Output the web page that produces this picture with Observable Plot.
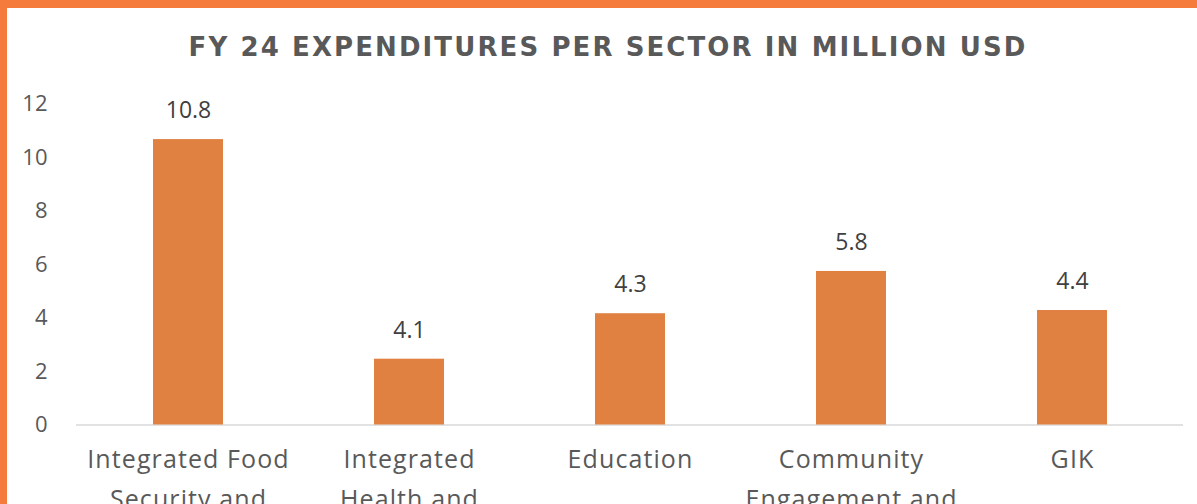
<!DOCTYPE html>
<html>
<head>
<meta charset="utf-8">
<script src="https://cdn.jsdelivr.net/npm/d3@7"></script>
<script src="https://cdn.jsdelivr.net/npm/@observablehq/plot@0.6"></script>
<style>
  html, body { margin: 0; padding: 0; background: #fff; overflow: hidden; }
  #frame {
    width: 1197px; height: 540px; box-sizing: border-box;
    border-left: 7px solid #F47B3B; border-top: 8px solid #F47B3B;
    background: #fff; font-family: "Open Sans", Lato, sans-serif;
  }
  #title {
    padding-top: 24px; height: 30px; line-height: 30px;
    text-align: center; font-weight: bold; font-size: 26px; color: #595959;
    font-family: "DejaVu Sans", sans-serif; letter-spacing: 2.1px;
    padding-left: 12px;
  }
  g[aria-label="x-axis tick label"] text { letter-spacing: 1.1px; }
</style>
</head>
<body>
<div id="frame">
  <div id="title">FY 24 EXPENDITURES PER SECTOR IN MILLION USD</div>
  <div id="chart"></div>
</div>
<script>
const sectors = ["Integrated Food\nSecurity and", "Integrated\nHealth and", "Education", "Community\nEngagement and", "GIK"];
const barHeights = [10.67, 2.46, 4.16, 5.74, 4.28];
const valueLabels = ["10.8", "4.1", "4.3", "5.8", "4.4"];
const yTicks = [0, 2, 4, 6, 8, 10, 12];

const data = sectors.map((s, i) => ({sector: s, value: barHeights[i], label: valueLabels[i]}));

const chart = Plot.plot({
  width: 1190,
  height: 470,
  marginLeft: 69,
  marginRight: 14,
  marginTop: 41.5,
  marginBottom: 107.5,
  style: {fontFamily: "'Open Sans', Lato, sans-serif", fontSize: "24px", color: "#595959", background: "#fff"},
  x: {domain: sectors, paddingInner: 0.684, paddingOuter: 0.342, label: null},
  y: {domain: [0, 12], label: null},
  marks: [
    Plot.axisY({ticks: yTicks, tickSize: 0, tickPadding: 29, fontSize: 22, label: null}),
    Plot.axisX({tickSize: 0, tickPadding: 15, fontSize: 25, lineHeight: 1.6, label: null}),
    Plot.ruleY([0], {stroke: "#D9D9D9", strokeWidth: 1.5}),
    Plot.barY(data, {x: "sector", y: "value", fill: "#E08142"}),
    Plot.text(data, {x: "sector", y: "value", text: "label", dy: -29, fontSize: 23, fill: "#404040"})
  ]
});
document.getElementById("chart").appendChild(chart);
</script>
</body>
</html>
